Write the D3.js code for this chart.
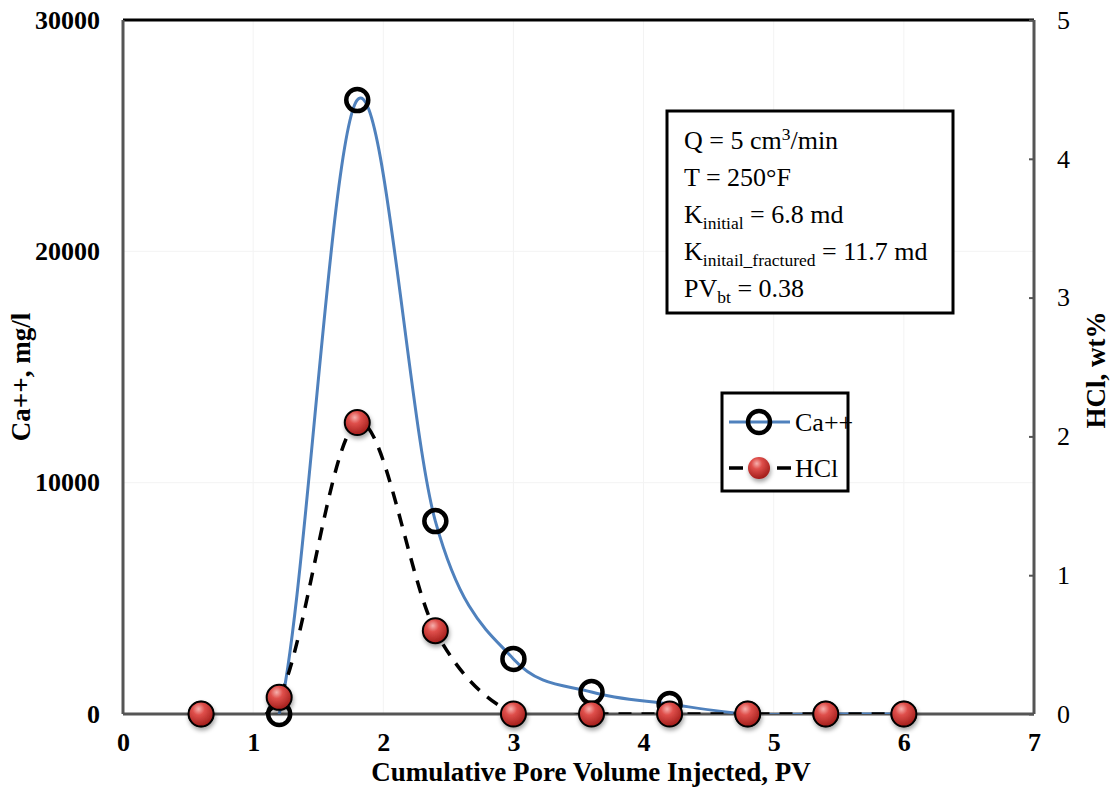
<!DOCTYPE html>
<html>
<head>
<meta charset="utf-8">
<script src="https://cdn.jsdelivr.net/npm/d3@7"></script>
<style>
  body { margin: 0; background: #fff; }
</style>
</head>
<body>
<svg width="1113" height="796"></svg>
<script>
// data
const pv = [0.6, 1.2, 1.8, 2.4, 3.0, 3.6, 4.2, 4.8, 5.4, 6.0];
const caValues = [0, 0, 26540, 8340, 2380, 950, 430, 0, 0, 0];
const hclValues = [0, 0.12, 2.10, 0.60, 0, 0, 0, 0, 0, 0];
const xTicks = [0, 1, 2, 3, 4, 5, 6, 7];
const yLeftTicks = [0, 10000, 20000, 30000];
const yRightTicks = [0, 1, 2, 3, 4, 5];

const FONT = "'Liberation Serif', 'Times New Roman', 'DejaVu Serif', serif";

const svg = d3.select("svg");
const m = { left: 123, right: 1034, top: 20, bottom: 714 };

const x = d3.scaleLinear().domain([0, 7]).range([m.left, m.right]);
const yL = d3.scaleLinear().domain([0, 30000]).range([m.bottom, m.top]);
const yR = d3.scaleLinear().domain([0, 5]).range([m.bottom, m.top]);

const defs = svg.append("defs");
const grad = defs.append("radialGradient")
    .attr("id", "ball").attr("cx", "40%").attr("cy", "30%").attr("r", "70%");
grad.append("stop").attr("offset", "0%").attr("stop-color", "#f6b0ad");
grad.append("stop").attr("offset", "35%").attr("stop-color", "#df4f4b");
grad.append("stop").attr("offset", "100%").attr("stop-color", "#a21d1a");
const shadow = defs.append("filter").attr("id", "shadow")
    .attr("x", "-50%").attr("y", "-50%").attr("width", "200%").attr("height", "200%");
shadow.append("feDropShadow").attr("dx", 1).attr("dy", 3).attr("stdDeviation", 2)
    .attr("flood-color", "#000").attr("flood-opacity", 0.35);
defs.append("clipPath").attr("id", "plot")
    .append("rect").attr("x", m.left).attr("y", m.top - 5)
    .attr("width", m.right - m.left).attr("height", m.bottom - m.top + 5);

// faint grid
svg.append("g").selectAll("line").data(xTicks.slice(1, -1)).join("line")
    .attr("x1", d => x(d)).attr("x2", d => x(d))
    .attr("y1", m.top).attr("y2", m.bottom)
    .attr("stroke", "#f3f3f3").attr("stroke-width", 1);
svg.append("g").selectAll("line").data(yLeftTicks.slice(1, -1)).join("line")
    .attr("x1", m.left).attr("x2", m.right)
    .attr("y1", d => yL(d)).attr("y2", d => yL(d))
    .attr("stroke", "#f3f3f3").attr("stroke-width", 1);

// frame
svg.append("line").attr("x1", m.left).attr("x2", m.right).attr("y1", m.top).attr("y2", m.top)
    .attr("stroke", "#000").attr("stroke-width", 3);
svg.append("line").attr("x1", m.right).attr("x2", m.right).attr("y1", m.top).attr("y2", m.bottom)
    .attr("stroke", "#555").attr("stroke-width", 3);
svg.append("line").attr("x1", m.left).attr("x2", m.left).attr("y1", m.top).attr("y2", m.bottom)
    .attr("stroke", "#555").attr("stroke-width", 3);
svg.append("line").attr("x1", m.left).attr("x2", m.right).attr("y1", m.bottom).attr("y2", m.bottom)
    .attr("stroke", "#555").attr("stroke-width", 3);

// axes
const xAxis = svg.append("g").attr("transform", `translate(0,${m.bottom})`)
    .call(d3.axisBottom(x).tickValues(xTicks).tickSize(0).tickPadding(19).tickFormat(d3.format("d")));
xAxis.select(".domain").remove();
xAxis.selectAll("text").style("font-family", FONT).style("font-size", "26px")
    .style("font-weight", "bold").attr("fill", "#000");

const yAxisL = svg.append("g").attr("transform", `translate(${m.left},0)`)
    .call(d3.axisLeft(yL).tickValues(yLeftTicks).tickSize(0).tickPadding(23).tickFormat(d3.format("d")));
yAxisL.select(".domain").remove();
yAxisL.selectAll("text").style("font-family", FONT).style("font-size", "26px")
    .style("font-weight", "bold").attr("fill", "#000");

const yAxisR = svg.append("g").attr("transform", `translate(${m.right},0)`)
    .call(d3.axisRight(yR).tickValues(yRightTicks).tickSizeInner(-5).tickSizeOuter(0).tickPadding(23).tickFormat(d3.format("d")));
yAxisR.select(".domain").remove();
yAxisR.selectAll("line").attr("stroke", "#555").attr("stroke-width", 2);
yAxisR.selectAll("text").style("font-family", FONT).style("font-size", "26px").attr("fill", "#000");

// axis titles
function label(sel) {
    return sel.style("font-family", FONT).style("font-size", "27px").style("font-weight", "bold")
        .attr("text-anchor", "middle").attr("fill", "#000");
}
label(svg.append("text").attr("x", 591).attr("y", 781))
    .text("Cumulative Pore Volume Injected, PV");
label(svg.append("text").attr("transform", "translate(30,377) rotate(-90)"))
    .text("Ca++, mg/l");
label(svg.append("text").attr("transform", "translate(1105,370) rotate(-90)"))
    .text("HCl, wt%");

const caData = pv.map((p, i) => ({ x: p, y: caValues[i] }));
const hclData = pv.map((p, i) => ({ x: p, y: hclValues[i] }));

const lines = svg.append("g").attr("clip-path", "url(#plot)");
lines.append("path").datum(caData)
    .attr("fill", "none").attr("stroke", "#4f81bd").attr("stroke-width", 3)
    .attr("d", d3.line().x(d => x(d.x)).y(d => yL(d.y)).curve(d3.curveCatmullRom.alpha(0)));
lines.append("path").datum(hclData)
    .attr("fill", "none").attr("stroke", "#000").attr("stroke-width", 3.5)
    .attr("stroke-dasharray", "13,10")
    .attr("d", d3.line().x(d => x(d.x)).y(d => yR(d.y)).curve(d3.curveCatmullRom.alpha(0)));

// markers
svg.append("g").selectAll("circle").data(caData).join("circle")
    .attr("cx", d => x(d.x)).attr("cy", d => yL(d.y)).attr("r", 11)
    .attr("fill", "none").attr("stroke", "#000").attr("stroke-width", 4.5);
svg.append("g").selectAll("circle").data(hclData).join("circle")
    .attr("cx", d => x(d.x)).attr("cy", d => yR(d.y)).attr("r", 12.5)
    .attr("fill", "url(#ball)").attr("stroke", "#000").attr("stroke-width", 2)
    .attr("filter", "url(#shadow)");

// info box
const box = svg.append("g");
box.append("rect").attr("x", 667).attr("y", 111).attr("width", 286).attr("height", 202)
    .attr("fill", "#fff").attr("stroke", "#000").attr("stroke-width", 3);
const rows = [
    [["Q = 5 cm", 0], ["3", -1], ["/min", 0]],
    [["T = 250°F", 0]],
    [["K", 0], ["initial", 1], [" = 6.8 md", 0]],
    [["K", 0], ["initail_fractured", 1], [" = 11.7 md", 0]],
    [["PV", 0], ["bt", 1], [" = 0.38", 0]]
];
rows.forEach((row, i) => {
    const t = box.append("text").attr("x", 684).attr("y", 149 + i * 37)
        .style("font-family", FONT).style("font-size", "26px").attr("fill", "#000");
    let prev = 0;
    row.forEach(([s, kind]) => {
        const off = kind === 1 ? 6 : kind === -1 ? -9 : 0;
        const ts = t.append("tspan").text(s).attr("dy", off - prev);
        if (kind !== 0) ts.style("font-size", "17.5px");
        prev = off;
    });
});

// legend
const lg = svg.append("g");
lg.append("rect").attr("x", 722).attr("y", 393).attr("width", 126).attr("height", 98)
    .attr("fill", "#fff").attr("stroke", "#000").attr("stroke-width", 3);
lg.append("line").attr("x1", 729).attr("x2", 790).attr("y1", 422).attr("y2", 422)
    .attr("stroke", "#4f81bd").attr("stroke-width", 3);
lg.append("circle").attr("cx", 759).attr("cy", 422).attr("r", 11)
    .attr("fill", "none").attr("stroke", "#000").attr("stroke-width", 4.5);
lg.append("text").attr("x", 795).attr("y", 431)
    .style("font-family", FONT).style("font-size", "26px").attr("fill", "#000").text("Ca++");
lg.append("line").attr("x1", 729).attr("x2", 791).attr("y1", 468).attr("y2", 468)
    .attr("stroke", "#000").attr("stroke-width", 3.5).attr("stroke-dasharray", "14,34");
lg.append("circle").attr("cx", 759).attr("cy", 468).attr("r", 11)
    .attr("fill", "url(#ball)").attr("stroke", "none").attr("filter", "url(#shadow)");
lg.append("text").attr("x", 795).attr("y", 477)
    .style("font-family", FONT).style("font-size", "26px").attr("fill", "#000").text("HCl");
</script>
</body>
</html>
